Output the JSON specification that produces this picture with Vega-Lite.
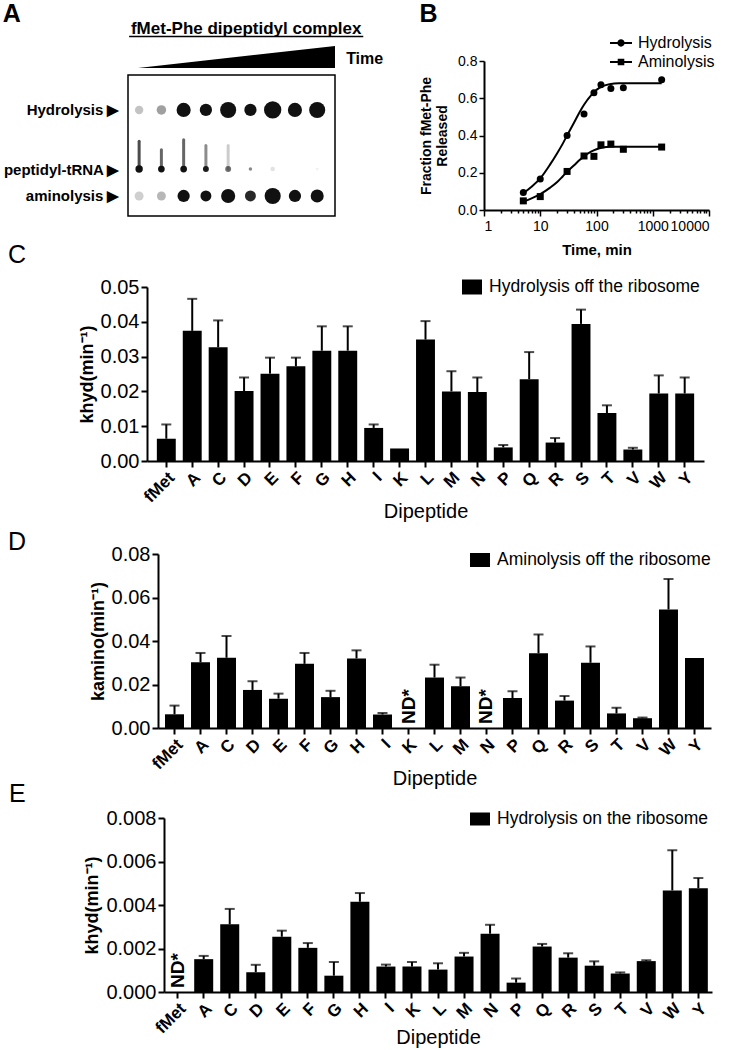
{
  "$schema": "https://vega.github.io/schema/vega-lite/v6.json",
  "background": "white",
  "padding": {"left": 2, "top": 2, "right": 0, "bottom": 0},
  "config": {
    "font": "Liberation Sans",
    "view": {"stroke": null},
    "axis": {"labelFont": "Liberation Sans", "titleFont": "Liberation Sans", "labelColor": "black", "titleColor": "black", "domainColor": "black", "tickColor": "black", "grid": false, "labelOverlap": false},
    "legend": {"labelFont": "Liberation Sans", "labelColor": "black", "labelLimit": 400},
    "title": {"font": "Liberation Sans", "color": "black"},
    "text": {"font": "Liberation Sans", "color": "black"}
  },
  "datasets": {
    "gel": [
      {"band": "Hydrolysis", "lane": 1, "pos": 24.8, "spot": 70, "intensity": 0.25},
      {"band": "Hydrolysis", "lane": 2, "pos": 24.8, "spot": 90, "intensity": 0.4},
      {"band": "Hydrolysis", "lane": 3, "pos": 24.8, "spot": 200, "intensity": 1},
      {"band": "Hydrolysis", "lane": 4, "pos": 24.8, "spot": 150, "intensity": 1},
      {"band": "Hydrolysis", "lane": 5, "pos": 24.8, "spot": 260, "intensity": 1},
      {"band": "Hydrolysis", "lane": 6, "pos": 24.8, "spot": 150, "intensity": 1},
      {"band": "Hydrolysis", "lane": 7, "pos": 24.8, "spot": 300, "intensity": 1},
      {"band": "Hydrolysis", "lane": 8, "pos": 24.8, "spot": 200, "intensity": 1},
      {"band": "Hydrolysis", "lane": 9, "pos": 24.8, "spot": 260, "intensity": 1},
      {"band": "peptidyl-tRNA", "lane": 1, "pos": 66.7, "spot": 55, "intensity": 1},
      {"band": "peptidyl-tRNA", "lane": 2, "pos": 66.7, "spot": 45, "intensity": 1},
      {"band": "peptidyl-tRNA", "lane": 3, "pos": 66.7, "spot": 45, "intensity": 1},
      {"band": "peptidyl-tRNA", "lane": 4, "pos": 66.7, "spot": 35, "intensity": 0.95},
      {"band": "peptidyl-tRNA", "lane": 5, "pos": 66.7, "spot": 35, "intensity": 0.6},
      {"band": "peptidyl-tRNA", "lane": 6, "pos": 66.7, "spot": 12, "intensity": 0.5},
      {"band": "peptidyl-tRNA", "lane": 7, "pos": 66.7, "spot": 20, "intensity": 0.12},
      {"band": "peptidyl-tRNA", "lane": 9, "pos": 66.7, "spot": 8, "intensity": 0.06},
      {"band": "aminolysis", "lane": 1, "pos": 85.8, "spot": 80, "intensity": 0.2},
      {"band": "aminolysis", "lane": 2, "pos": 85.8, "spot": 80, "intensity": 0.3},
      {"band": "aminolysis", "lane": 3, "pos": 85.8, "spot": 150, "intensity": 1},
      {"band": "aminolysis", "lane": 4, "pos": 85.8, "spot": 120, "intensity": 1},
      {"band": "aminolysis", "lane": 5, "pos": 85.8, "spot": 200, "intensity": 1},
      {"band": "aminolysis", "lane": 6, "pos": 85.8, "spot": 120, "intensity": 0.9},
      {"band": "aminolysis", "lane": 7, "pos": 85.8, "spot": 260, "intensity": 1},
      {"band": "aminolysis", "lane": 8, "pos": 85.8, "spot": 150, "intensity": 1},
      {"band": "aminolysis", "lane": 9, "pos": 85.8, "spot": 170, "intensity": 1}
    ],
    "streaks": [
      {"lane": 1, "from": 47, "to": 66.7, "intensity": 0.7},
      {"lane": 2, "from": 53, "to": 66.7, "intensity": 0.6},
      {"lane": 3, "from": 46, "to": 66.7, "intensity": 0.6},
      {"lane": 4, "from": 50, "to": 66.7, "intensity": 0.45},
      {"lane": 5, "from": 50, "to": 66.7, "intensity": 0.2}
    ],
    "curves": [
      {"series": "Hydrolysis", "t": 5, "f": 0.09}, {"series": "Hydrolysis", "t": 7, "f": 0.125}, {"series": "Hydrolysis", "t": 10, "f": 0.17},
      {"series": "Hydrolysis", "t": 15, "f": 0.245}, {"series": "Hydrolysis", "t": 20, "f": 0.305}, {"series": "Hydrolysis", "t": 25, "f": 0.355},
      {"series": "Hydrolysis", "t": 30, "f": 0.4}, {"series": "Hydrolysis", "t": 40, "f": 0.47}, {"series": "Hydrolysis", "t": 50, "f": 0.525},
      {"series": "Hydrolysis", "t": 60, "f": 0.565}, {"series": "Hydrolysis", "t": 80, "f": 0.615}, {"series": "Hydrolysis", "t": 100, "f": 0.645},
      {"series": "Hydrolysis", "t": 130, "f": 0.665}, {"series": "Hydrolysis", "t": 170, "f": 0.675}, {"series": "Hydrolysis", "t": 250, "f": 0.68},
      {"series": "Hydrolysis", "t": 500, "f": 0.68}, {"series": "Hydrolysis", "t": 1440, "f": 0.68},
      {"series": "Aminolysis", "t": 5, "f": 0.045}, {"series": "Aminolysis", "t": 7, "f": 0.062}, {"series": "Aminolysis", "t": 10, "f": 0.085},
      {"series": "Aminolysis", "t": 15, "f": 0.12}, {"series": "Aminolysis", "t": 20, "f": 0.15}, {"series": "Aminolysis", "t": 25, "f": 0.18},
      {"series": "Aminolysis", "t": 30, "f": 0.205}, {"series": "Aminolysis", "t": 40, "f": 0.24}, {"series": "Aminolysis", "t": 50, "f": 0.268},
      {"series": "Aminolysis", "t": 60, "f": 0.288}, {"series": "Aminolysis", "t": 80, "f": 0.313}, {"series": "Aminolysis", "t": 100, "f": 0.326},
      {"series": "Aminolysis", "t": 130, "f": 0.335}, {"series": "Aminolysis", "t": 170, "f": 0.339}, {"series": "Aminolysis", "t": 250, "f": 0.34},
      {"series": "Aminolysis", "t": 500, "f": 0.34}, {"series": "Aminolysis", "t": 1440, "f": 0.34}
    ],
    "release": [
      {"series": "Hydrolysis", "t": 5, "f": 0.094}, {"series": "Hydrolysis", "t": 10, "f": 0.167}, {"series": "Hydrolysis", "t": 30, "f": 0.4},
      {"series": "Hydrolysis", "t": 60, "f": 0.516}, {"series": "Hydrolysis", "t": 90, "f": 0.63}, {"series": "Hydrolysis", "t": 120, "f": 0.673},
      {"series": "Hydrolysis", "t": 180, "f": 0.653}, {"series": "Hydrolysis", "t": 300, "f": 0.656}, {"series": "Hydrolysis", "t": 1440, "f": 0.7},
      {"series": "Aminolysis", "t": 5, "f": 0.049}, {"series": "Aminolysis", "t": 10, "f": 0.072}, {"series": "Aminolysis", "t": 30, "f": 0.207},
      {"series": "Aminolysis", "t": 60, "f": 0.29}, {"series": "Aminolysis", "t": 90, "f": 0.288}, {"series": "Aminolysis", "t": 120, "f": 0.35},
      {"series": "Aminolysis", "t": 180, "f": 0.354}, {"series": "Aminolysis", "t": 300, "f": 0.326}, {"series": "Aminolysis", "t": 1440, "f": 0.338}
    ],
    "hydOff": [
      {"dipeptide": "fMet", "k": 0.0064, "hi": 0.0105}, {"dipeptide": "A", "k": 0.0374, "hi": 0.0466}, {"dipeptide": "C", "k": 0.0327, "hi": 0.0404},
      {"dipeptide": "D", "k": 0.0201, "hi": 0.024}, {"dipeptide": "E", "k": 0.0251, "hi": 0.0297}, {"dipeptide": "F", "k": 0.0272, "hi": 0.0297},
      {"dipeptide": "G", "k": 0.0317, "hi": 0.0387}, {"dipeptide": "H", "k": 0.0317, "hi": 0.0387}, {"dipeptide": "I", "k": 0.0095, "hi": 0.0105},
      {"dipeptide": "K", "k": 0.0036}, {"dipeptide": "L", "k": 0.0349, "hi": 0.0402}, {"dipeptide": "M", "k": 0.02, "hi": 0.0258},
      {"dipeptide": "N", "k": 0.0198, "hi": 0.024}, {"dipeptide": "P", "k": 0.0039, "hi": 0.0046}, {"dipeptide": "Q", "k": 0.0235, "hi": 0.0313},
      {"dipeptide": "R", "k": 0.0053, "hi": 0.0066}, {"dipeptide": "S", "k": 0.0394, "hi": 0.0435}, {"dipeptide": "T", "k": 0.0138, "hi": 0.016},
      {"dipeptide": "V", "k": 0.0033, "hi": 0.0038}, {"dipeptide": "W", "k": 0.0194, "hi": 0.0246}, {"dipeptide": "Y", "k": 0.0194, "hi": 0.024}
    ],
    "aminoOff": [
      {"dipeptide": "fMet", "k": 0.0063, "hi": 0.0103}, {"dipeptide": "A", "k": 0.0302, "hi": 0.0345}, {"dipeptide": "C", "k": 0.0323, "hi": 0.0423},
      {"dipeptide": "D", "k": 0.0175, "hi": 0.0215}, {"dipeptide": "E", "k": 0.0135, "hi": 0.0158}, {"dipeptide": "F", "k": 0.0295, "hi": 0.0345},
      {"dipeptide": "G", "k": 0.0142, "hi": 0.0171}, {"dipeptide": "H", "k": 0.032, "hi": 0.0357}, {"dipeptide": "I", "k": 0.0062, "hi": 0.0069},
      {"dipeptide": "K", "k": null, "note": "ND*"}, {"dipeptide": "L", "k": 0.0232, "hi": 0.0291}, {"dipeptide": "M", "k": 0.0192, "hi": 0.0232},
      {"dipeptide": "N", "k": null, "note": "ND*"}, {"dipeptide": "P", "k": 0.0138, "hi": 0.0169}, {"dipeptide": "Q", "k": 0.0344, "hi": 0.043},
      {"dipeptide": "R", "k": 0.0126, "hi": 0.0147}, {"dipeptide": "S", "k": 0.03, "hi": 0.0375}, {"dipeptide": "T", "k": 0.0067, "hi": 0.0093},
      {"dipeptide": "V", "k": 0.0045, "hi": 0.0048}, {"dipeptide": "W", "k": 0.0545, "hi": 0.0685}, {"dipeptide": "Y", "k": 0.0322}
    ],
    "hydOn": [
      {"dipeptide": "fMet", "k": null, "note": "ND*"}, {"dipeptide": "A", "k": 0.00151, "hi": 0.00166}, {"dipeptide": "C", "k": 0.00311, "hi": 0.00382},
      {"dipeptide": "D", "k": 0.00091, "hi": 0.00125}, {"dipeptide": "E", "k": 0.00254, "hi": 0.00282}, {"dipeptide": "F", "k": 0.00203, "hi": 0.00225},
      {"dipeptide": "G", "k": 0.00075, "hi": 0.00138}, {"dipeptide": "H", "k": 0.00415, "hi": 0.00455}, {"dipeptide": "I", "k": 0.00117, "hi": 0.00126},
      {"dipeptide": "K", "k": 0.00117, "hi": 0.00138}, {"dipeptide": "L", "k": 0.00103, "hi": 0.00132}, {"dipeptide": "M", "k": 0.00163, "hi": 0.0018},
      {"dipeptide": "N", "k": 0.00268, "hi": 0.00309}, {"dipeptide": "P", "k": 0.00043, "hi": 0.00062}, {"dipeptide": "Q", "k": 0.00209, "hi": 0.00221},
      {"dipeptide": "R", "k": 0.00158, "hi": 0.00178}, {"dipeptide": "S", "k": 0.00121, "hi": 0.00141}, {"dipeptide": "T", "k": 0.00085, "hi": 0.0009},
      {"dipeptide": "V", "k": 0.00142, "hi": 0.00146}, {"dipeptide": "W", "k": 0.00467, "hi": 0.00652}, {"dipeptide": "Y", "k": 0.00477, "hi": 0.00524}
    ]
  },
  "resolve": {"scale": {"color": "independent", "shape": "independent"}, "legend": {"color": "independent", "shape": "independent"}},
  "spacing": -18,
  "vconcat": [
    {
      "spacing": 35,
      "resolve": {"scale": {"color": "independent", "shape": "independent"}, "legend": {"color": "independent", "shape": "independent"}},
      "hconcat": [
        {
          "title": {"text": "A", "anchor": "start", "frame": "bounds", "fontSize": 25, "fontWeight": "bold", "offset": -7},
          "width": 207,
          "height": 200,
          "layer": [
            {
              "data": {"values": [{}]},
              "mark": {"type": "rect", "fill": "white", "stroke": "black", "strokeWidth": 1.5},
              "encoding": {
                "x": {"datum": 0.5, "type": "quantitative", "scale": {"domain": [0.5, 9.8]}, "axis": null},
                "x2": {"datum": 9.8},
                "y": {"datum": 0, "type": "quantitative", "scale": {"domain": [-9.9, 131.9], "reverse": true},
                  "axis": {"values": [24.8, 66.7, 85.8], "tickCount": 20, "labelExpr": "datum.value < 40 ? 'Hydrolysis ▶' : datum.value < 75 ? 'peptidyl-tRNA ▶' : 'aminolysis ▶'", "domain": false, "ticks": false, "labelFontSize": 15, "labelFontWeight": "bold", "labelPadding": 9, "title": null}},
                "y2": {"datum": 100}
              }
            },
            {
              "data": {"name": "streaks"},
              "mark": {"type": "rule", "color": "black", "strokeWidth": 3, "strokeCap": "round"},
              "encoding": {
                "x": {"field": "lane", "type": "quantitative", "scale": {"domain": [0.5, 9.8]}},
                "y": {"field": "from", "type": "quantitative", "scale": {"domain": [-9.9, 131.9], "reverse": true}},
                "y2": {"field": "to"},
                "opacity": {"field": "intensity", "type": "quantitative", "scale": null}
              }
            },
            {
              "data": {"name": "gel"},
              "mark": {"type": "point", "shape": "circle", "filled": true, "color": "#111111"},
              "encoding": {
                "x": {"field": "lane", "type": "quantitative", "scale": {"domain": [0.5, 9.8]}},
                "y": {"field": "pos", "type": "quantitative", "scale": {"domain": [-9.9, 131.9], "reverse": true}},
                "size": {"field": "spot", "type": "quantitative", "scale": null},
                "opacity": {"field": "intensity", "type": "quantitative", "scale": null}
              }
            },
            {
              "data": {"values": [{"lane": 0.95, "top": -5}, {"lane": 9.8, "top": -20.6}]},
              "mark": {"type": "area", "color": "black"},
              "encoding": {
                "x": {"field": "lane", "type": "quantitative", "scale": {"domain": [0.5, 9.8]}},
                "y": {"field": "top", "type": "quantitative", "scale": {"domain": [-9.9, 131.9], "reverse": true}},
                "y2": {"datum": -5}
              }
            },
            {
              "data": {"values": [{"label": "fMet-Phe dipeptidyl complex"}]},
              "mark": {"type": "text", "fontSize": 17, "fontWeight": "bold", "baseline": "alphabetic", "align": "center"},
              "encoding": {
                "x": {"datum": 5.81, "type": "quantitative", "scale": {"domain": [0.5, 9.8]}},
                "y": {"datum": -29, "type": "quantitative", "scale": {"domain": [-9.9, 131.9], "reverse": true}},
                "text": {"field": "label"}
              }
            },
            {
              "data": {"values": [{}]},
              "mark": {"type": "rule", "color": "black", "strokeWidth": 1.5},
              "encoding": {
                "x": {"datum": 0.55, "type": "quantitative", "scale": {"domain": [0.5, 9.8]}},
                "x2": {"datum": 11.07},
                "y": {"datum": -27.3, "type": "quantitative", "scale": {"domain": [-9.9, 131.9], "reverse": true}}
              }
            },
            {
              "data": {"values": [{"label": "Time"}]},
              "mark": {"type": "text", "fontSize": 16, "fontWeight": "bold", "baseline": "middle", "align": "left"},
              "encoding": {
                "x": {"datum": 10.3, "type": "quantitative", "scale": {"domain": [0.5, 9.8]}},
                "y": {"datum": -11.3, "type": "quantitative", "scale": {"domain": [-9.9, 131.9], "reverse": true}},
                "text": {"field": "label"}
              }
            }
          ]
        },
        {
          "title": {"text": "B", "anchor": "start", "frame": "bounds", "fontSize": 25, "fontWeight": "bold", "offset": 5},
          "width": 225,
          "height": 149,
          "resolve": {"scale": {"shape": "independent"}, "legend": {"shape": "independent"}},
          "layer": [
            {
              "data": {"name": "curves"},
              "mark": {"type": "line", "color": "black", "strokeWidth": 2, "interpolate": "monotone"},
              "encoding": {
                "x": {"field": "t", "type": "quantitative", "scale": {"type": "log", "domain": [1, 10000]},
                  "axis": {"values": [1,2,3,4,5,6,7,8,9,10,20,30,40,50,60,70,80,90,100,200,300,400,500,600,700,800,900,1000,2000,3000,4000,5000,6000,7000,8000,9000,10000],
                    "tickCount": 100,
                    "format": "d",
                    "labelExpr": "abs(log(datum.value)/LN10 - round(log(datum.value)/LN10)) < 0.01 ? datum.label : ''",
                    "tickSize": {"condition": {"test": "abs(log(datum.value)/LN10 - round(log(datum.value)/LN10)) < 0.01", "value": 6}, "value": 3},
                    "tickWidth": 1.5, "domainWidth": 2, "labelFontSize": 14, "labelPadding": 3, "labelOverlap": false,
                    "title": "Time, min", "titleFontSize": 15, "titleFontWeight": "bold", "titlePadding": 9}},
                "y": {"field": "f", "type": "quantitative", "scale": {"domain": [0, 0.8]},
                  "axis": {"values": [0, 0.2, 0.4, 0.6, 0.8], "tickCount": 20, "format": ".1f", "tickSize": 5, "tickWidth": 1.5, "domainWidth": 2, "labelFontSize": 14, "labelPadding": 2, "labelOverlap": false,
                    "title": ["Fraction fMet-Phe", "Released"], "titleFontSize": 14, "titleFontWeight": "bold", "titlePadding": 8}},
                "detail": {"field": "series"}
              }
            },
            {
              "data": {"name": "release"},
              "mark": {"type": "point", "filled": true, "color": "black", "size": 49, "opacity": 1},
              "encoding": {
                "x": {"field": "t", "type": "quantitative"},
                "y": {"field": "f", "type": "quantitative"},
                "shape": {"field": "series", "type": "nominal", "scale": {"domain": ["Hydrolysis", "Aminolysis"], "range": ["circle", "square"]}, "legend": null}
              }
            },
            {
              "data": {"name": "release"},
              "mark": {"type": "point", "filled": true, "color": "black", "opacity": 0},
              "encoding": {
                "x": {"field": "t", "type": "quantitative"},
                "y": {"field": "f", "type": "quantitative"},
                "shape": {"field": "series", "type": "nominal",
                  "scale": {"domain": ["Hydrolysis", "Aminolysis"], "range": ["M-1,-0.09H1V0.09H-1ZM0.33,0A0.33,0.33,0,1,1,-0.33,0A0.33,0.33,0,1,1,0.33,0Z", "M-1,-0.09H1V0.09H-1ZM-0.3,-0.3H0.3V0.3H-0.3Z"]},
                  "legend": {"orient": "none", "legendX": 126, "legendY": -29, "title": null, "symbolSize": 484, "symbolOpacity": 1, "symbolFillColor": "black", "symbolStrokeWidth": 0, "labelFontSize": 16, "labelOffset": 6, "rowPadding": -6}}
              }
            }
          ]
        }
      ]
    },
    {
      "spacing": -121,
      "resolve": {"scale": {"color": "independent"}, "legend": {"color": "independent"}},
      "hconcat": [
        {"width": 1, "height": 261, "data": {"values": []}, "mark": "point"},
        {
          "title": {"text": "C", "anchor": "start", "frame": "bounds", "fontSize": 25, "fontWeight": "normal", "offset": 9, "dx": -70},
          "width": 557,
          "height": 174,
          "data": {"name": "hydOff"},
          "encoding": {
            "x": {"field": "dipeptide", "type": "nominal", "scale": {"domain": ["fMet","A","C","D","E","F","G","H","I","K","L","M","N","P","Q","R","S","T","V","W","Y"], "paddingInner": 0.27, "paddingOuter": 0.38},
              "axis": {"title": "Dipeptide", "labelAngle": -45, "labelFontSize": 17, "labelFontWeight": "bold", "titleFontSize": 20, "titleFontWeight": "normal", "titlePadding": -4, "domainWidth": 2, "tickWidth": 2, "tickSize": 6, "labelPadding": 2}}
          },
          "layer": [
            {
              "mark": {"type": "bar", "color": "black"},
              "encoding": {
                "y": {"field": "k", "type": "quantitative", "scale": {"domain": [0, 0.05]},
                  "axis": {"values": [0, 0.01, 0.02, 0.03, 0.04, 0.05], "tickCount": 20, "format": ".2f", "labelOverlap": false, "title": "khyd(min⁻¹)", "titleFontSize": 18, "titleFontWeight": "bold", "titlePadding": 4, "labelFontSize": 20, "labelPadding": 2, "domainWidth": 2, "tickWidth": 2, "tickSize": 6}},
                "color": {"datum": "Hydrolysis off the ribosome", "type": "nominal", "scale": {"range": ["black"]},
                  "legend": {"orient": "none", "legendX": 315, "legendY": -10, "title": null, "symbolType": "M-1,-0.75H1V0.75H-1Z", "symbolSize": 400, "symbolStrokeWidth": 0, "labelFontSize": 17.5, "labelOffset": 7}}
              }
            },
            {
              "transform": [{"filter": "isValid(datum.hi)"}],
              "mark": {"type": "rule", "color": "black", "strokeWidth": 2},
              "encoding": {"y": {"field": "k", "type": "quantitative"}, "y2": {"field": "hi"}}
            },
            {
              "transform": [{"filter": "isValid(datum.hi)"}],
              "mark": {"type": "tick", "color": "black", "thickness": 2, "size": 10},
              "encoding": {"y": {"field": "hi", "type": "quantitative"}}
            }
          ]
        }
      ]
    },
    {
      "spacing": -121,
      "resolve": {"scale": {"color": "independent"}, "legend": {"color": "independent"}},
      "hconcat": [
        {"width": 1, "height": 246, "data": {"values": []}, "mark": "point"},
        {
          "title": {"text": "D", "anchor": "start", "frame": "bounds", "fontSize": 25, "fontWeight": "normal", "offset": -11, "dx": -81},
          "width": 553,
          "height": 174,
          "data": {"name": "aminoOff"},
          "encoding": {
            "x": {"field": "dipeptide", "type": "nominal", "scale": {"domain": ["fMet","A","C","D","E","F","G","H","I","K","L","M","N","P","Q","R","S","T","V","W","Y"], "paddingInner": 0.27, "paddingOuter": 0.27},
              "axis": {"title": "Dipeptide", "labelAngle": -45, "labelFontSize": 17, "labelFontWeight": "bold", "titleFontSize": 20, "titleFontWeight": "normal", "titlePadding": -4, "domainWidth": 2, "tickWidth": 2, "tickSize": 6, "labelPadding": 2}}
          },
          "layer": [
            {
              "mark": {"type": "bar", "color": "black"},
              "encoding": {
                "y": {"field": "k", "type": "quantitative", "scale": {"domain": [0, 0.08]},
                  "axis": {"values": [0, 0.02, 0.04, 0.06, 0.08], "tickCount": 20, "format": ".2f", "labelOverlap": false, "title": "kamino(min⁻¹)", "titleFontSize": 18, "titleFontWeight": "bold", "titlePadding": 4, "labelFontSize": 20, "labelPadding": 2, "domainWidth": 2, "tickWidth": 2, "tickSize": 6}},
                "color": {"datum": "Aminolysis off the ribosome", "type": "nominal", "scale": {"range": ["black"]},
                  "legend": {"orient": "none", "legendX": 312, "legendY": -4, "title": null, "symbolType": "M-1,-0.7H1V0.7H-1Z", "symbolSize": 400, "symbolStrokeWidth": 0, "labelFontSize": 17.5, "labelOffset": 7}}
              }
            },
            {
              "transform": [{"filter": "isValid(datum.hi)"}],
              "mark": {"type": "rule", "color": "black", "strokeWidth": 2},
              "encoding": {"y": {"field": "k", "type": "quantitative"}, "y2": {"field": "hi"}}
            },
            {
              "transform": [{"filter": "isValid(datum.hi)"}],
              "mark": {"type": "tick", "color": "black", "thickness": 2, "size": 10},
              "encoding": {"y": {"field": "hi", "type": "quantitative"}}
            },
            {
              "transform": [{"filter": "isValid(datum.note)"}],
              "mark": {"type": "text", "angle": 270, "align": "left", "baseline": "middle", "dx": 4, "fontSize": 19, "fontWeight": "bold"},
              "encoding": {"y": {"datum": 0, "type": "quantitative"}, "text": {"field": "note"}}
            }
          ]
        }
      ]
    },
    {
      "spacing": -121,
      "resolve": {"scale": {"color": "independent"}, "legend": {"color": "independent"}},
      "hconcat": [
        {"width": 1, "height": 1, "data": {"values": []}, "mark": "point"},
        {
          "title": {"text": "E", "anchor": "start", "frame": "bounds", "fontSize": 25, "fontWeight": "normal", "offset": 1, "dx": -75},
          "width": 548,
          "height": 174,
          "data": {"name": "hydOn"},
          "encoding": {
            "x": {"field": "dipeptide", "type": "nominal", "scale": {"domain": ["fMet","A","C","D","E","F","G","H","I","K","L","M","N","P","Q","R","S","T","V","W","Y"], "paddingInner": 0.27, "paddingOuter": 0.16},
              "axis": {"title": "Dipeptide", "labelAngle": -45, "labelFontSize": 17, "labelFontWeight": "bold", "titleFontSize": 20, "titleFontWeight": "normal", "titlePadding": -9, "domainWidth": 2, "tickWidth": 2, "tickSize": 6, "labelPadding": 2}}
          },
          "layer": [
            {
              "mark": {"type": "bar", "color": "black"},
              "encoding": {
                "y": {"field": "k", "type": "quantitative", "scale": {"domain": [0, 0.008]},
                  "axis": {"values": [0, 0.002, 0.004, 0.006, 0.008], "tickCount": 20, "format": ".3f", "labelOverlap": false, "title": "khyd(min⁻¹)", "titleFontSize": 18, "titleFontWeight": "bold", "titlePadding": 4, "labelFontSize": 20, "labelPadding": 2, "domainWidth": 2, "tickWidth": 2, "tickSize": 6}},
                "color": {"datum": "Hydrolysis on the ribosome", "type": "nominal", "scale": {"range": ["black"]},
                  "legend": {"orient": "none", "legendX": 306, "legendY": -9, "title": null, "symbolType": "M-1,-0.65H1V0.65H-1Z", "symbolSize": 400, "symbolStrokeWidth": 0, "labelFontSize": 17.5, "labelOffset": 7}}
              }
            },
            {
              "transform": [{"filter": "isValid(datum.hi)"}],
              "mark": {"type": "rule", "color": "black", "strokeWidth": 2},
              "encoding": {"y": {"field": "k", "type": "quantitative"}, "y2": {"field": "hi"}}
            },
            {
              "transform": [{"filter": "isValid(datum.hi)"}],
              "mark": {"type": "tick", "color": "black", "thickness": 2, "size": 10},
              "encoding": {"y": {"field": "hi", "type": "quantitative"}}
            },
            {
              "transform": [{"filter": "isValid(datum.note)"}],
              "mark": {"type": "text", "angle": 270, "align": "left", "baseline": "middle", "dx": 4, "fontSize": 19, "fontWeight": "bold"},
              "encoding": {"y": {"datum": 0, "type": "quantitative"}, "text": {"field": "note"}}
            }
          ]
        }
      ]
    }
  ]
}
